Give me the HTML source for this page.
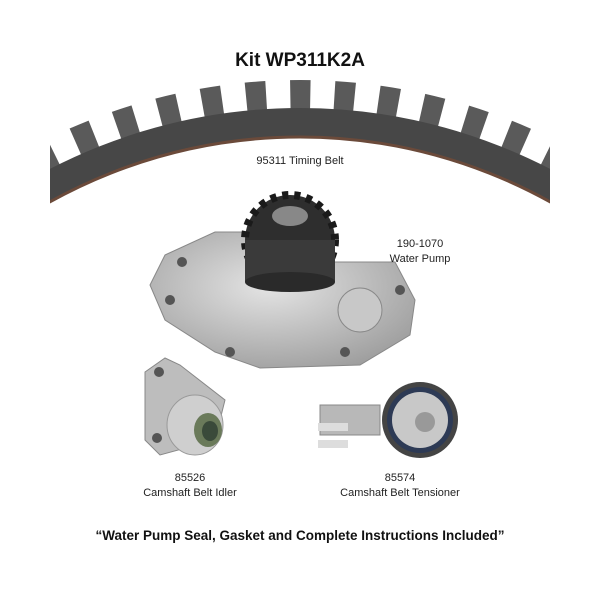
<!DOCTYPE html>
<html><head><style>
html,body{margin:0;padding:0;background:#fff;width:600px;height:600px;overflow:hidden;font-family:"Liberation Sans",Arial,sans-serif}
svg{display:block}
</style></head><body>
<svg width="600" height="600" viewBox="0 0 600 600" xmlns="http://www.w3.org/2000/svg">
<defs>
<clipPath id="c"><rect x="50" y="0" width="500" height="215"/></clipPath>
<radialGradient id="pg" cx="0.45" cy="0.4" r="0.7"><stop offset="0" stop-color="#e4e4e4"/><stop offset="1" stop-color="#9a9a9a"/></radialGradient>
</defs>
<text x="300" y="66" font-size="19" font-weight="bold" text-anchor="middle" fill="#111">Kit WP311K2A</text>
<g clip-path="url(#c)">
<circle cx="300" cy="651" r="553" fill="none" stroke="#5a5a5a" stroke-width="36" stroke-dasharray="20 24"/>
<circle cx="300" cy="651" r="528" fill="none" stroke="#474747" stroke-width="30"/>
<circle cx="300" cy="651" r="514" fill="none" stroke="#6b4a3a" stroke-width="3"/>
</g>
<text x="300" y="164" font-size="11" text-anchor="middle" fill="#222">95311 Timing Belt</text>
<path d="M165,255 L215,232 L270,232 L330,262 L395,262 L415,300 L410,335 L360,365 L260,368 L215,352 L165,320 L150,285 Z" fill="url(#pg)" stroke="#888"/>
<circle cx="360" cy="310" r="22" fill="#c8c8c8" stroke="#888"/>
<circle cx="182" cy="262" r="5" fill="#555"/><circle cx="170" cy="300" r="5" fill="#555"/>
<circle cx="230" cy="352" r="5" fill="#555"/><circle cx="345" cy="352" r="5" fill="#555"/><circle cx="400" cy="290" r="5" fill="#555"/>
<circle cx="290" cy="240" r="45" fill="#2e2e2e" stroke="#1a1a1a" stroke-width="8" stroke-dasharray="6 6"/>
<rect x="245" y="240" width="90" height="42" fill="#3a3a3a"/>
<ellipse cx="290" cy="282" rx="45" ry="10" fill="#2a2a2a"/>
<ellipse cx="290" cy="216" rx="18" ry="10" fill="#888"/>
<text x="420" y="247" font-size="11" text-anchor="middle" fill="#222">190-1070</text>
<text x="420" y="262" font-size="11" text-anchor="middle" fill="#222">Water Pump</text>
<path d="M145,372 L165,358 L180,365 L225,400 L215,440 L160,455 L145,440 Z" fill="#bdbdbd" stroke="#888"/>
<circle cx="159" cy="372" r="5" fill="#555"/><circle cx="157" cy="438" r="5" fill="#555"/>
<ellipse cx="195" cy="425" rx="28" ry="30" fill="#cfcfcf" stroke="#999"/>
<ellipse cx="208" cy="430" rx="14" ry="17" fill="#6a7a5a"/>
<ellipse cx="210" cy="431" rx="8" ry="10" fill="#3a4a3a"/>
<text x="190" y="481" font-size="11" text-anchor="middle" fill="#222">85526</text>
<text x="190" y="496" font-size="11" text-anchor="middle" fill="#222">Camshaft Belt Idler</text>
<rect x="320" y="405" width="60" height="30" fill="#b8b8b8" stroke="#888"/>
<rect x="318" y="423" width="30" height="8" fill="#ddd"/><rect x="318" y="440" width="30" height="8" fill="#ddd"/>
<circle cx="420" cy="420" r="38" fill="#444"/>
<circle cx="420" cy="420" r="33" fill="#2d3a55"/>
<circle cx="420" cy="420" r="28" fill="#c8c8c8"/>
<circle cx="425" cy="422" r="10" fill="#999"/>
<text x="400" y="481" font-size="11" text-anchor="middle" fill="#222">85574</text>
<text x="400" y="496" font-size="11" text-anchor="middle" fill="#222">Camshaft Belt Tensioner</text>
<text x="300" y="540" font-size="13.5" font-weight="bold" text-anchor="middle" fill="#111">“Water Pump Seal, Gasket and Complete Instructions Included”</text>
</svg>
</body></html>
